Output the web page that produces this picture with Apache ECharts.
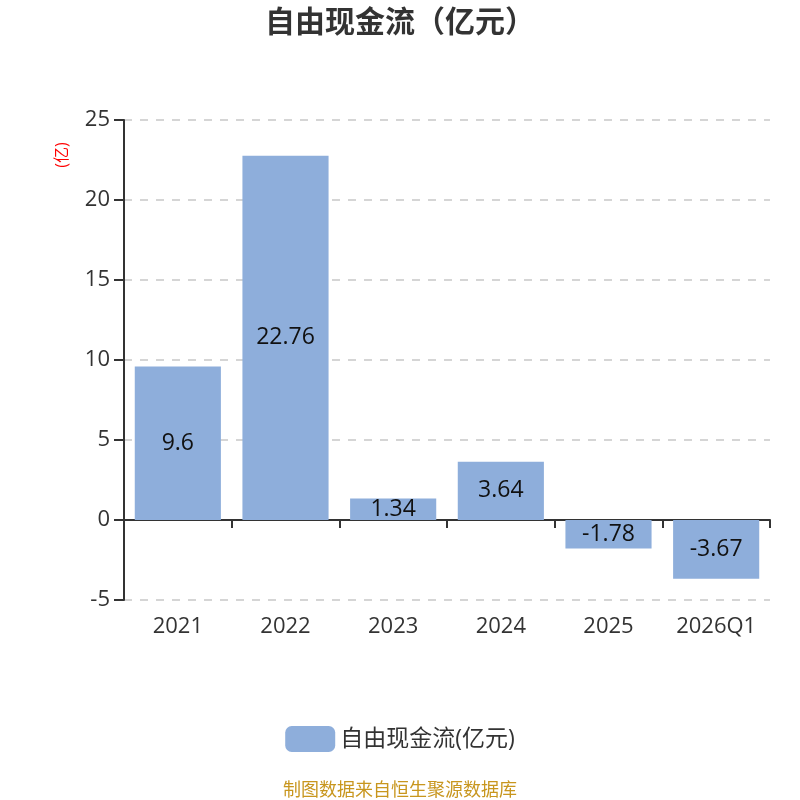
<!DOCTYPE html>
<html>
<head>
<meta charset="utf-8">
<script src="https://cdn.jsdelivr.net/npm/echarts@6/dist/echarts.min.js"></script>
<style>
html, body { margin: 0; padding: 0; background: #fff; }
#chart { width: 800px; height: 800px; }
</style>
</head>
<body>
<div id="chart"></div>
<script>
var years = ['2021', '2022', '2023', '2024', '2025', '2026Q1'];
var cashflow = [9.6, 22.76, 1.34, 3.64, -1.78, -3.67];
var seriesName = '自由现金流(亿元)';

var myChart = echarts.init(document.getElementById('chart'));
var font = '"Open Sans", "Noto Sans CJK SC", sans-serif';
var option = {
    backgroundColor: '#fff',
    textStyle: { fontFamily: font },
    title: [
        {
            text: '自由现金流（亿元）',
            left: 'center',
            top: 3,
            textStyle: { fontSize: 30, fontWeight: 'bold', color: '#333', fontFamily: font }
        },
        {
            text: '制图数据来自恒生聚源数据库',
            left: 'center',
            top: 777,
            textStyle: { fontSize: 18, fontWeight: 'normal', color: '#c8961e', fontFamily: font }
        }
    ],
    legend: {
        data: [seriesName],
        left: 'center',
        top: 721,
        itemWidth: 50,
        itemHeight: 26,
        itemGap: 10,
        icon: 'roundRect',
        textStyle: { fontSize: 23, color: '#333', fontFamily: font }
    },
    graphic: [{
        type: 'text',
        x: 62,
        y: 155,
        rotation: Math.PI / 2,
        style: {
            text: '(亿)',
            fill: 'red',
            fontSize: 16,
            fontFamily: font,
            align: 'center',
            verticalAlign: 'middle'
        }
    }],
    grid: { left: 124, right: 30, top: 120, bottom: 200 },
    xAxis: [
        {
            type: 'category',
            data: years,
            axisLine: { onZero: true, lineStyle: { color: '#333', width: 2 } },
            axisTick: { show: true, length: 8, lineStyle: { color: '#333', width: 2 } },
            axisLabel: { show: false }
        },
        {
            type: 'category',
            data: years,
            position: 'bottom',
            axisLine: { show: false },
            axisTick: { show: false },
            axisLabel: { fontSize: 22, color: '#333', margin: 16 }
        }
    ],
    yAxis: {
        type: 'value',
        min: -5,
        max: 25,
        interval: 5,
        axisLine: { show: true, lineStyle: { color: '#333', width: 2 } },
        axisTick: { show: true, length: 10, lineStyle: { color: '#333', width: 2 } },
        axisLabel: { fontSize: 22, color: '#333', margin: 14 },
        splitLine: { lineStyle: { type: [8, 8], color: '#c8c8c8', width: 1.5 } }
    },
    series: [{
        name: seriesName,
        type: 'bar',
        xAxisIndex: 0,
        data: cashflow,
        barCategoryGap: '20%',
        itemStyle: { color: '#8eaedb' },
        label: {
            show: true,
            position: 'inside',
            fontSize: 23,
            color: '#111'
        }
    }]
};
myChart.setOption(option);
</script>
</body>
</html>
